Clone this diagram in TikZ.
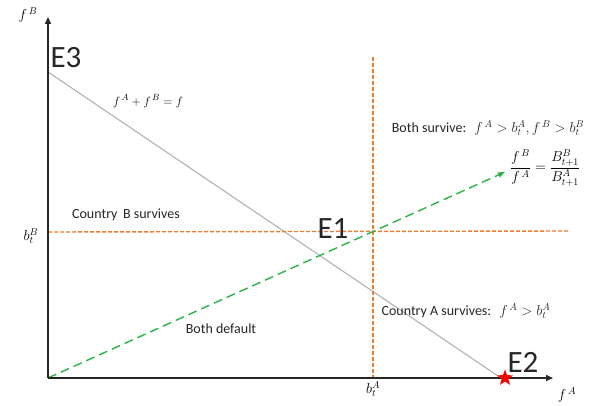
\documentclass[tikz,border=0pt]{standalone}
\usepackage{amsmath}
\usepackage{fontspec}
\setmainfont{Carlito}
\usetikzlibrary{arrows.meta,shapes.geometric}
\definecolor{orangeL}{RGB}{237,125,49}
\definecolor{greenL}{RGB}{40,180,70}
\begin{document}
\begin{tikzpicture}[x=1pt,y=-1pt,
  axis/.style={line width=1.6pt,draw=black!85,-{Triangle[length=7pt,width=6pt]}},
  lbl/.style={font=\fontsize{14}{16}\selectfont,text=black!85},
  big/.style={font=\fontsize{31}{33}\selectfont,text=black!85},
  mlbl/.style={font=\fontsize{14}{16}\selectfont},
  orangedash/.style={draw=orangeL,line width=1.4pt,dash pattern=on 4pt off 2pt},
  greendash/.style={draw=greenL,line width=1.4pt,dash pattern=on 9pt off 5pt,-{Triangle[length=7pt,width=5pt]}}
]
\useasboundingbox (0,0) rectangle (593,406);
\coordinate (O) at (48,378);
\coordinate (Ytop) at (48,17);
\coordinate (Xend) at (553,378);
\coordinate (E3p) at (48,72);
\coordinate (E2p) at (501,378);
\coordinate (Hl) at (48,232);
\coordinate (Hr) at (570,231);
\coordinate (Vt) at (373,57);
\coordinate (Vb) at (373,378);
\coordinate (Gend) at (505,172);
\draw[gray!60,line width=1.1pt] (E3p) -- (E2p);
\draw[orangedash] (Hl) -- (Hr);
\draw[orangedash] (Vt) -- (Vb);
\draw[greendash] (O) -- (Gend);
\draw[axis] (O) -- (Ytop);
\draw[axis] (O) -- (Xend);
\node[star,star points=5,star point ratio=2.4,fill=red,inner sep=0pt,minimum size=17pt] (star) at (505,378) {};
\node[big] (E3) at (66,58) {E3};
\node[big] (E1) at (333,229) {E1};
\node[big] (E2) at (523,362) {E2};
\node[mlbl] (fB) at (28,15) {$f^{\,B}$};
\node[mlbl] (fA) at (567,395) {$f^{\,A}$};
\node[mlbl] (bB) at (31,236) {$b_t^B$};
\node[mlbl] (bA) at (373,389) {$b_t^A$};
\node[font=\fontsize{13}{15}\selectfont] (sum) at (148,101) {$f^{\,A}+f^{\,B}=f$};
\node[lbl] (cB) at (126,215) {Country\, B survives};
\node[lbl] (bd) at (221,329) {Both default};
\node[lbl] (bs) at (488,128) {Both survive:\; $f^{\,A}>b_t^A, f^{\,B}>b_t^B$};
\node[font=\fontsize{14}{16}\selectfont] (frac) at (545,168) {$\dfrac{f^{\,B}\rule[-2pt]{0pt}{2pt}}{f^{\,A}\rule{0pt}{11pt}}=\dfrac{B^B_{t+1}\rule[-2pt]{0pt}{2pt}}{B^A_{t+1}\rule{0pt}{11pt}}$};
\node[lbl] (cA) at (466,311) {Country A survives:\; $f^{\,A}>b_t^A$};
\end{tikzpicture}
\end{document}
